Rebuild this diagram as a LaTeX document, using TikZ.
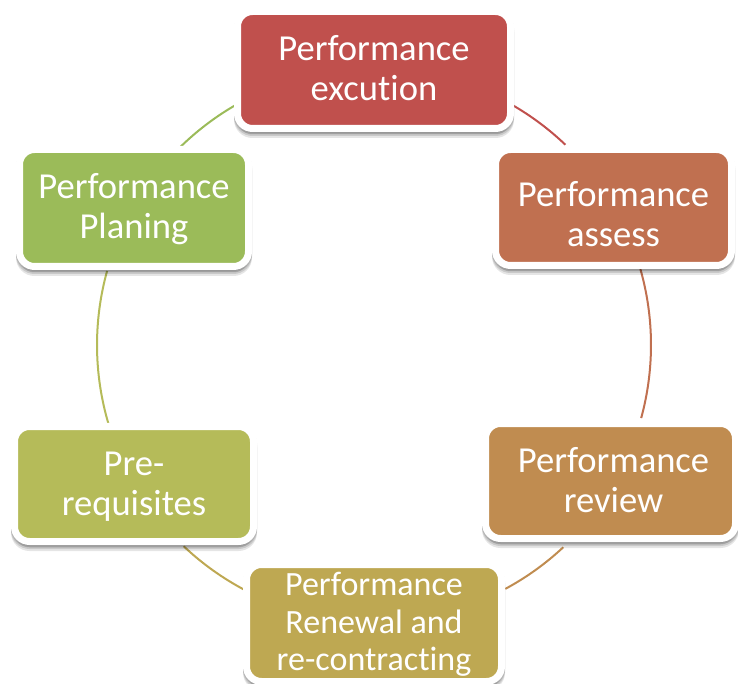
\documentclass[tikz,border=0pt]{standalone}
\usepackage{fontspec}
\setmainfont[Ligatures={NoCommon}]{Carlito}
\usetikzlibrary{shadows}
\definecolor{cEx}{HTML}{C0504D}
\definecolor{cAs}{HTML}{C07050}
\definecolor{cRv}{HTML}{C08C50}
\definecolor{cRn}{HTML}{BEA852}
\definecolor{cPr}{HTML}{B5BB59}
\definecolor{cPl}{HTML}{9BBB59}
\newcommand\mystrut{\rule[-8pt]{0pt}{38pt}}
\newcommand\tallstrut{\rule[-8pt]{0pt}{54pt}}
\newcommand\smstrut{\rule[-8pt]{0pt}{36pt}}
\begin{document}
\begin{tikzpicture}[x=1pt,y=1pt,
  box/.style={rounded corners=15pt, draw=white, line width=7pt, inner sep=0pt,
    outer sep=3.5pt, text=white, align=center,
    font=\fontsize{36.6pt}{40pt}\selectfont,
    general shadow={shadow yshift=-2pt, fill=black, draw=black, line width=7pt, opacity=0.12},
    general shadow={shadow yshift=-4pt, fill=black, draw=black, line width=7pt, opacity=0.12},
    general shadow={shadow yshift=-6pt, fill=black, draw=black, line width=7pt, opacity=0.10}},
  link/.style={line width=2pt}]
\useasboundingbox (0,0) rectangle (738,683);
\coordinate (o) at (374,338);
% connectors: arcs of one circle round (o), drawn first
\draw[link, draw=cEx] ([shift={(60.1:277)}]o) arc[start angle=60.1, end angle=46.3, radius=277];
\draw[link, draw=cAs] ([shift={(15.9:277)}]o) arc[start angle=15.9, end angle=-15.3, radius=277];
\draw[link, draw=cRv] ([shift={(-46.9:277)}]o) arc[start angle=-46.9, end angle=-61.7, radius=277];
\draw[link, draw=cRn] ([shift={(242.4:277)}]o) arc[start angle=242.4, end angle=226.6, radius=277];
\draw[link, draw=cPr] ([shift={(196.5:277)}]o) arc[start angle=196.5, end angle=164.5, radius=277];
\draw[link, draw=cPl] ([shift={(134.6:277)}]o) arc[start angle=134.6, end angle=120, radius=277];
\node[box, fill=cEx, minimum width=273pt, minimum height=117pt] (ex) at (374,613)
  {\mystrut Performance\\excution\mystrut};
\node[box, fill=cAs, minimum width=236pt, minimum height=116pt] (as) at (613.5,475.5)
  {\tallstrut Performance\\assess\mystrut};
\node[box, fill=cRv, minimum width=250pt, minimum height=115pt] (rv) at (610.5,202)
  {\mystrut\hspace*{6pt}Performance\\\hspace*{6pt}review\mystrut};
\node[box, fill=cRn, minimum width=255pt, minimum height=117pt,
  font=\fontsize{34pt}{37.5pt}\selectfont] (rn) at (374,60)
  {\smstrut Performance\\Renewal and\\re-contracting\smstrut};
\node[box, fill=cPr, minimum width=239pt, minimum height=115pt] (pr) at (134,199)
  {\mystrut Pre-\\requisites\mystrut};
\node[box, fill=cPl, minimum width=229pt, minimum height=117pt] (pl) at (134,475)
  {\mystrut Performance\\Planing\mystrut};
\end{tikzpicture}
\end{document}
